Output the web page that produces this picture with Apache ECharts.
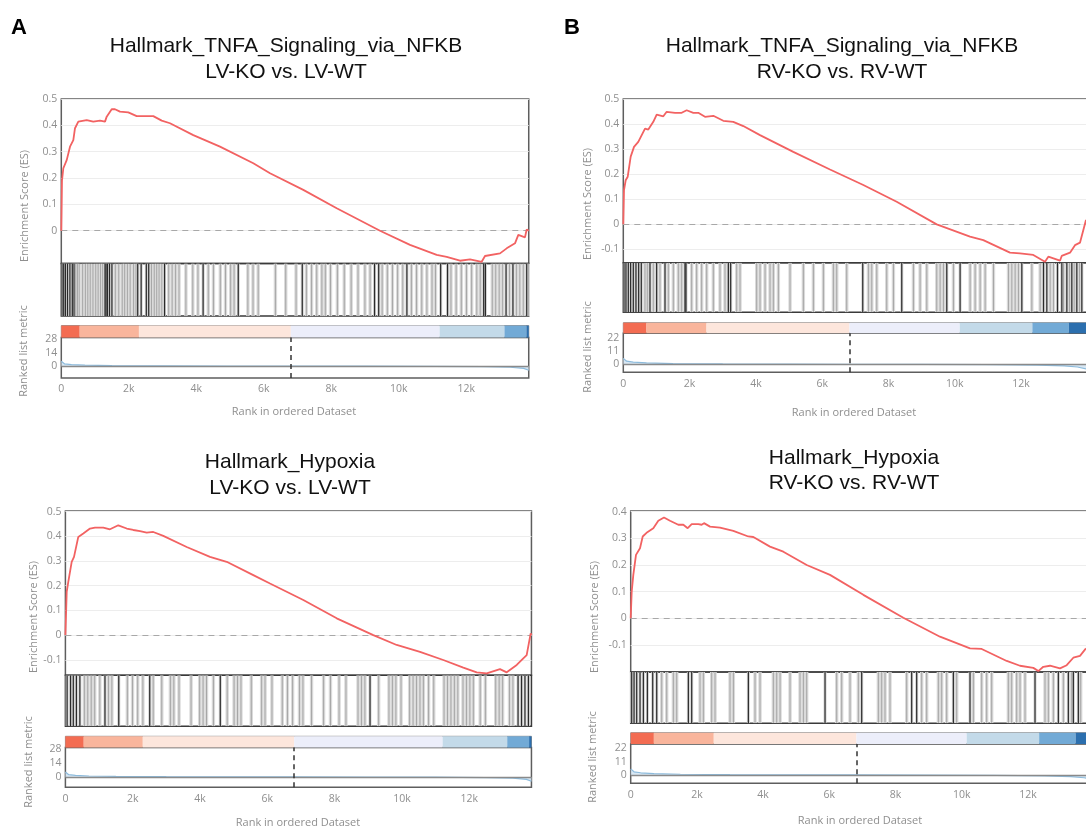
<!DOCTYPE html>
<html><head><meta charset="utf-8">
<script src="https://cdn.jsdelivr.net/npm/echarts@6/dist/echarts.min.js"></script>
<style>html,body{margin:0;padding:0;background:#fff}#c{width:1086px;height:829px}</style>
</head><body><div id="c"></div>
<script>
// ---------------- DATA ----------------
const xTickValues = [0, 2000, 4000, 6000, 8000, 10000, 12000];
const lvRankCount = 13850;
const rvRankCount = 13990;
const lvZeroCross = 6800;
const rvZeroCross = 6830;
const lvMetricTicks = [0, 14, 28];
const rvMetricTicks = [0, 11, 22];
const esTicksTnfaLv = [0, 0.1, 0.2, 0.3, 0.4, 0.5];
const esTicksTnfaRv = [-0.1, 0, 0.1, 0.2, 0.3, 0.4, 0.5];
const esTicksHypLv = [-0.1, 0, 0.1, 0.2, 0.3, 0.4, 0.5];
const esTicksHypRv = [-0.1, 0, 0.1, 0.2, 0.3, 0.4];

// heat bar segment boundaries (rank)
const lvHeatBreaks = [0, 545, 2300, 6800, 11210, 13130, 13780, 13850];
const rvHeatBreaks = [0, 700, 2510, 6820, 10150, 12340, 13440, 13990];

// running enrichment score [rank, ES]
const tnfaLvES = [[0,0],[20,0.19],[60,0.237],[160,0.268],[258,0.319],[356,0.344],[406,0.389],[504,0.414],[752,0.42],[948,0.414],[1147,0.418],[1295,0.414],[1345,0.433],[1493,0.461],[1590,0.461],[1739,0.452],[1985,0.449],[2234,0.435],[2726,0.435],[2975,0.418],[3221,0.408],[3911,0.363],[4702,0.319],[5689,0.256],[6184,0.218],[7170,0.155],[8160,0.085],[9443,0],[10332,-0.054],[11123,-0.092],[11419,-0.099],[11813,-0.114],[12110,-0.109],[12456,-0.118],[12554,-0.096],[12999,-0.086],[13197,-0.067],[13443,-0.048],[13541,-0.016],[13739,-0.025],[13790,0.005],[13850,0]];
const tnfaRvES = [[0,0],[21,0.137],[72,0.176],[133,0.19],[223,0.27],[323,0.309],[452,0.329],[655,0.382],[754,0.378],[905,0.409],[1007,0.438],[1207,0.431],[1309,0.449],[1560,0.445],[1761,0.445],[1912,0.455],[2112,0.445],[2262,0.445],[2464,0.429],[2715,0.433],[3017,0.413],[3318,0.409],[3620,0.392],[4124,0.356],[5128,0.289],[6235,0.219],[7240,0.157],[8247,0.09],[9454,0],[10459,-0.049],[10860,-0.063],[11665,-0.113],[11967,-0.116],[12368,-0.122],[12721,-0.149],[12821,-0.129],[13173,-0.145],[13225,-0.126],[13475,-0.113],[13626,-0.083],[13776,-0.073],[13957,0.017],[13990,0]];
const hypLvES = [[0,0],[39,0.175],[86,0.216],[187,0.297],[256,0.317],[383,0.398],[532,0.412],[731,0.432],[880,0.436],[1126,0.436],[1325,0.429],[1572,0.445],[1822,0.432],[2018,0.426],[2217,0.421],[2416,0.415],[2612,0.418],[2909,0.402],[3605,0.357],[4297,0.317],[4793,0.297],[5584,0.243],[6080,0.209],[7070,0.142],[8063,0.068],[9150,0],[9845,-0.04],[10538,-0.068],[11230,-0.101],[11825,-0.132],[12223,-0.151],[12520,-0.155],[12915,-0.138],[13115,-0.151],[13412,-0.121],[13608,-0.094],[13708,-0.081],[13827,0.007],[13850,0]];
const hypRvES = [[0,0],[30,0.1],[79,0.163],[160,0.238],[281,0.263],[363,0.307],[502,0.323],[683,0.338],[834,0.366],[1006,0.378],[1187,0.366],[1438,0.351],[1590,0.351],[1722,0.338],[1843,0.353],[2042,0.353],[2143,0.351],[2215,0.357],[2396,0.344],[2698,0.34],[3100,0.328],[3553,0.307],[3705,0.305],[4208,0.269],[4611,0.25],[5317,0.2],[6021,0.163],[7028,0.088],[8236,0.002],[9344,-0.069],[10251,-0.113],[10604,-0.115],[11360,-0.16],[11761,-0.178],[12164,-0.186],[12315,-0.198],[12465,-0.182],[12667,-0.178],[12970,-0.188],[13172,-0.176],[13372,-0.148],[13574,-0.141],[13755,-0.113]];

// gene-set hit ranks (dark = strong lines, light = faint lines)
const tnfaLvHitsDark = [20,71,122,184,255,326,377,1295,1326,1367,1428,1500,2264,2366,2519,2590,3060,4202,5243,7140,9282,9404,10240,11240,11444,12515,12566,13178,13382,13790];
const tnfaLvHitsLight = [428,479,530,632,714,785,857,938,1020,1091,1163,1224,1601,1703,1805,1877,1958,2040,2142,2213,2672,2754,2826,2897,2978,3182,3284,3386,3488,3692,3896,4049,4355,4508,4712,4865,5018,5120,5528,5681,5834,6344,6650,6956,7262,7415,7568,7721,7823,7976,8180,8384,8588,8792,8996,9149,9506,9660,9812,9965,10118,10373,10526,10680,10832,10985,11087,11546,11699,11852,12005,12158,12311,12413,12770,12872,12974,13076,13280,13484,13586,13688,13841];
const tnfaRvHitsDark = [20,80,151,221,302,382,463,543,805,1006,1258,1861,1891,3169,3239,7223,8400,9758,10160,12022,12676,12776,13098,13229,13380,13530,13681,13832];
const tnfaRvHitsLight = [654,724,905,1107,1358,1509,1660,1761,2062,2213,2364,2515,2716,2917,3068,3420,3521,4024,4125,4276,4426,4527,4678,5030,5432,5734,6036,6338,6438,6740,7394,7495,7646,7947,8149,8752,8953,9155,9456,9557,9658,9959,10462,10613,10764,10915,11167,11619,11720,11820,11921,12324,12575,12877,12977,13279,13460,13601,13762];
const hypLvHitsDark = [51,153,235,327,430,1176,1586,2506,4603,9053,13452,13555,13657,13760];
const hypLvHitsLight = [563,665,767,870,1023,1279,1381,1841,1995,2148,2302,2609,2864,3120,3222,3376,3734,3990,4092,4194,4399,4808,5013,5115,5217,5524,5831,5933,6138,6445,6599,6752,6956,7059,7315,7673,7877,8133,8337,8696,8798,8900,9309,9616,9718,9821,9974,10230,10332,10435,10537,10639,10793,10946,11253,11355,11458,11560,11662,11816,11918,12020,12123,12327,12481,12788,12890,12993,13197,13299];
const hypRvHitsDark = [30,101,181,282,383,504,665,786,1742,1843,3555,5871,6979,8489,8640,9748,10251,12215,12920,13222,13373,13524];
const hypRvHitsLight = [937,1088,1289,1390,2095,2195,2447,2548,3001,3102,3756,3907,4310,4411,4512,4814,5116,5217,5317,6223,6374,6626,6878,7482,7583,7683,7834,8338,8791,8942,9295,9395,9546,9849,10352,10604,10755,10906,11409,11510,11661,11762,11913,12517,12618,12769,13071,13323,13595];

// ranked list metric [rank, value]
const lvMetric = [[0,5],[30,3],[100,2.2],[300,1.5],[700,0.9],[1500,0.5],[3000,0.2],[5000,0.05],[6800,0],[9000,-0.1],[11000,-0.3],[12500,-0.7],[13300,-1.3],[13700,-2.5],[13850,-4.5]];
const rvMetric = [[0,5],[30,3.5],[100,2.6],[300,1.8],[700,1.1],[1500,0.6],[3000,0.25],[5000,0.08],[6830,0],[9000,-0.15],[11000,-0.35],[12500,-0.8],[13300,-1.4],[13700,-2.3],[13990,-4]];

// ---------------- CHART ----------------
const heatColors = ['#f36c52', '#f9b59c', '#fde6dc', '#eceefa', '#c3dae9', '#72aad6', '#2c6fae'];
const tickFont = 'Open Sans, DejaVu Sans, sans-serif';
const option = { animation: false, backgroundColor: '#fff', grid: [], xAxis: [], yAxis: [], series: [], graphic: [] };

function addGrid(left, top, width, height, color, bw) {
  option.grid.push({ left, top, width, height, show: true, borderColor: color, borderWidth: bw,
    backgroundColor: 'transparent', containLabel: false, outerBoundsMode: 'none' });
  return option.grid.length - 1;
}
function addAxes(g, n, yMin, yMax, xExtra, yExtra) {
  option.xAxis.push(Object.assign({ gridIndex: g, type: 'value', min: 0, max: n, show: false }, xExtra || {}));
  option.yAxis.push(Object.assign({ gridIndex: g, type: 'value', min: yMin, max: yMax, show: false }, yExtra || {}));
  return option.xAxis.length - 1;
}
const fmtEs = v => (Math.abs(v) < 1e-9 ? '0' : v.toFixed(1));
const fmtX = v => (v === 0 ? '0' : (v / 1000) + 'k');

function hitSeries(ax, hits, color, width, z) {
  return {
    type: 'custom', xAxisIndex: ax, yAxisIndex: ax, silent: true, clip: true, z,
    data: hits.map(r => [r, 0]), encode: { x: 0, y: 1 },
    renderItem: (params, api) => {
      const x = api.coord([api.value(0), 0])[0];
      const cs = params.coordSys;
      return { type: 'line', shape: { x1: x, y1: cs.y, x2: x, y2: cs.y + cs.height },
        style: { stroke: color, lineWidth: width } };
    }
  };
}

function buildPanel(p) {
  const w = p.n * p.pxPerRank;
  // ES plot
  const gEs = addGrid(p.left, p.esTop, w, p.esBottom - p.esTop, '#5e5e5e', 1.5);
  const aEs = addAxes(gEs, p.n, p.esMin, p.esMax, null, {
    show: true, axisLine: { show: false },
    axisTick: { show: false, customValues: p.esTicks },
    axisLabel: { customValues: p.esTicks, formatter: fmtEs, color: '#8f8f8f', fontSize: 10.5, margin: 4, fontFamily: tickFont },
    splitLine: { show: true, lineStyle: { color: '#ededed', width: 1 } }
  });
  option.series.push({
    type: 'line', xAxisIndex: aEs, yAxisIndex: aEs, data: p.es, showSymbol: false, z: 5,
    lineStyle: { color: '#f26262', width: 1.8 },
    markLine: { silent: true, symbol: 'none', label: { show: false }, z: 1,
      data: [{ yAxis: 0, lineStyle: { color: '#a8a8a8', type: [6, 5], width: 1.2 } }] }
  });
  // hit region
  const gHit = addGrid(p.left, p.esBottom, w, p.hitBottom - p.esBottom, '#3a3a3a', 1.5);
  const aHit = addAxes(gHit, p.n, 0, 1);
  option.series.push(hitSeries(aHit, p.hitsLight, '#dadada', 3.4, 1));
  option.series.push(hitSeries(aHit, p.hitsLight, '#a0a0a0', 0.9, 2));
  option.series.push(hitSeries(aHit, p.hitsDark, '#d2d2d2', 3, 1));
  option.series.push(hitSeries(aHit, p.hitsDark, '#2a2a2a', 1.2, 3));
  // heat bar
  const gHeat = addGrid(p.left, p.heatTop, w, p.heatBottom - p.heatTop, '#8a8a8a', 1);
  const aHeat = addAxes(gHeat, p.n, 0, 1);
  const segs = [];
  for (let i = 0; i < p.heat.length - 1; i++) segs.push([p.heat[i], p.heat[i + 1], i]);
  option.series.push({
    type: 'custom', xAxisIndex: aHeat, yAxisIndex: aHeat, silent: true, z: 1,
    data: segs, encode: { x: [0, 1] },
    renderItem: (params, api) => {
      const x1 = api.coord([api.value(0), 0])[0];
      const x2 = api.coord([api.value(1), 0])[0];
      const cs = params.coordSys;
      return { type: 'rect', shape: { x: x1, y: cs.y, width: x2 - x1, height: cs.height },
        style: { fill: heatColors[api.value(2)] } };
    }
  });
  // metric plot
  const gMet = addGrid(p.left, p.heatBottom, w, p.metBottom - p.heatBottom, '#5e5e5e', 1.5);
  const aMet = addAxes(gMet, p.n, p.metMin, p.metMax, {
    show: true, axisLine: { show: false },
    axisTick: { show: false, customValues: xTickValues },
    axisLabel: { customValues: xTickValues, formatter: fmtX, color: '#8f8f8f', fontSize: 10.5, margin: 6, fontFamily: tickFont },
    splitLine: { show: false }
  }, {
    show: true, axisLine: { show: false },
    axisTick: { show: false, customValues: p.metricTicks },
    axisLabel: { customValues: p.metricTicks, color: '#8f8f8f', fontSize: 10.5, margin: 4, fontFamily: tickFont },
    splitLine: { show: false }
  });
  option.series.push({
    type: 'line', xAxisIndex: aMet, yAxisIndex: aMet, data: p.metric, showSymbol: false, z: 4,
    lineStyle: { color: '#8dbbdc', width: 1.2 }, areaStyle: { color: '#cfe2f1', opacity: 0.8 },
    markLine: { silent: true, symbol: 'none', label: { show: false },
      data: [
        { yAxis: 0, lineStyle: { color: '#8a8a8a', type: 'solid', width: 1.4 } },
        { xAxis: p.zeroCross, lineStyle: { color: '#333', type: [5, 4], width: 1.5 } }
      ] }
  });
}

const panels = [
  { es: tnfaLvES, esTicks: esTicksTnfaLv, hitsDark: tnfaLvHitsDark, hitsLight: tnfaLvHitsLight, heat: lvHeatBreaks,
    metric: lvMetric, metricTicks: lvMetricTicks, zeroCross: lvZeroCross, n: lvRankCount,
    left: 61.3, pxPerRank: 0.03375, esTop: 99, esBottom: 263.5, esMin: -0.1245, esMax: 0.5,
    hitBottom: 316, heatTop: 325.6, heatBottom: 337.6, metBottom: 378, metMin: -12.6, metMax: 29.9 },
  { es: tnfaRvES, esTicks: esTicksTnfaRv, hitsDark: tnfaRvHitsDark, hitsLight: tnfaRvHitsLight, heat: rvHeatBreaks,
    metric: rvMetric, metricTicks: rvMetricTicks, zeroCross: rvZeroCross, n: rvRankCount,
    left: 623.3, pxPerRank: 0.03315, esTop: 99, esBottom: 262.7, esMin: -0.153, esMax: 0.5,
    hitBottom: 312.3, heatTop: 322.7, heatBottom: 333.3, metBottom: 372.3, metMin: -6.8, metMax: 26.2 },
  { es: hypLvES, esTicks: esTicksHypLv, hitsDark: hypLvHitsDark, hitsLight: hypLvHitsLight, heat: lvHeatBreaks,
    metric: lvMetric, metricTicks: lvMetricTicks, zeroCross: lvZeroCross, n: lvRankCount,
    left: 65.4, pxPerRank: 0.03365, esTop: 511, esBottom: 675.3, esMin: -0.163, esMax: 0.503,
    hitBottom: 726.3, heatTop: 736.3, heatBottom: 747.6, metBottom: 787.2, metMin: -10.5, metMax: 29.8 },
  { es: hypRvES, esTicks: esTicksHypRv, hitsDark: hypRvHitsDark, hitsLight: hypRvHitsLight, heat: rvHeatBreaks,
    metric: rvMetric, metricTicks: rvMetricTicks, zeroCross: rvZeroCross, n: rvRankCount,
    left: 630.7, pxPerRank: 0.0331, esTop: 511, esBottom: 672, esMin: -0.2015, esMax: 0.4026,
    hitBottom: 723.3, heatTop: 732.7, heatBottom: 744, metBottom: 783.3, metMin: -6.9, metMax: 25.6 }
];
panels.forEach(buildPanel);

// ---------------- TEXT ----------------
const titleFont = '21px "Liberation Sans", Arial, sans-serif';
const axisFont = '11px "Open Sans", "DejaVu Sans", sans-serif';
function txt(text, x, y, font, fill, rot) {
  option.graphic.push({ type: 'text', x, y, rotation: rot || 0, silent: true, z: 100,
    style: { text, font, fill, align: 'center', verticalAlign: 'middle' } });
}
txt('A', 19, 28, 'bold 22px "Liberation Sans", Arial, sans-serif', '#000');
txt('B', 572, 28, 'bold 22px "Liberation Sans", Arial, sans-serif', '#000');
txt('Hallmark_TNFA_Signaling_via_NFKB', 286, 46, titleFont, '#111');
txt('LV-KO vs. LV-WT', 286, 72, titleFont, '#111');
txt('Hallmark_TNFA_Signaling_via_NFKB', 842, 46, titleFont, '#111');
txt('RV-KO vs. RV-WT', 842, 72, titleFont, '#111');
txt('Hallmark_Hypoxia', 290, 462, titleFont, '#111');
txt('LV-KO vs. LV-WT', 290, 488, titleFont, '#111');
txt('Hallmark_Hypoxia', 854, 458, titleFont, '#111');
txt('RV-KO vs. RV-WT', 854, 483, titleFont, '#111');

const R = Math.PI / 2;
txt('Enrichment Score (ES)', 25, 206, axisFont, '#8f8f8f', R);
txt('Enrichment Score (ES)', 588, 204, axisFont, '#8f8f8f', R);
txt('Enrichment Score (ES)', 34, 617, axisFont, '#8f8f8f', R);
txt('Enrichment Score (ES)', 595, 617, axisFont, '#8f8f8f', R);
txt('Ranked list metric', 24, 351, axisFont, '#8f8f8f', R);
txt('Ranked list metric', 588, 347, axisFont, '#8f8f8f', R);
txt('Ranked list metric', 29, 762, axisFont, '#8f8f8f', R);
txt('Ranked list metric', 593, 757, axisFont, '#8f8f8f', R);
txt('Rank in ordered Dataset', 294, 412, axisFont, '#8f8f8f');
txt('Rank in ordered Dataset', 854, 413, axisFont, '#8f8f8f');
txt('Rank in ordered Dataset', 298, 823, axisFont, '#8f8f8f');
txt('Rank in ordered Dataset', 860, 821, axisFont, '#8f8f8f');

const chart = echarts.init(document.getElementById('c'), null, { renderer: 'canvas' });
chart.setOption(option);
</script>
</body></html>
